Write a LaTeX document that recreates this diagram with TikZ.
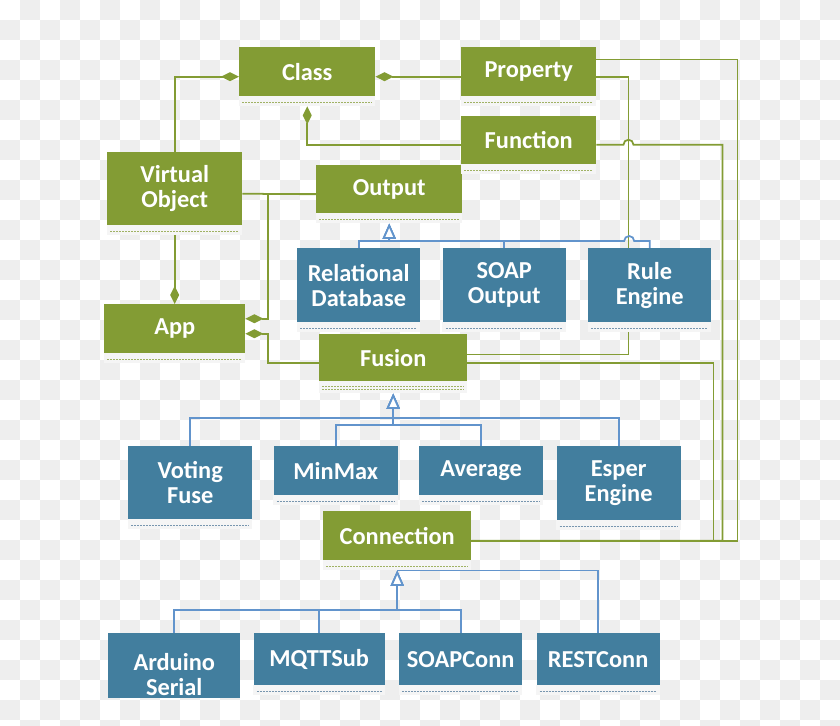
\documentclass[tikz,border=0pt]{standalone}
\usepackage{fontspec}
\setmainfont{Carlito}
\usepackage{tikz}
\usetikzlibrary{
        arrows.meta,
        backgrounds,
        positioning
    }
\definecolor{umlgreen}{RGB}{131,156,52}
\definecolor{umlblue}{RGB}{66,126,158}
\definecolor{linkblue}{RGB}{98,148,204}
\definecolor{checkgray}{RGB}{238,238,238}
\definecolor{dashgreen}{RGB}{160,178,100}
\definecolor{dashblue}{RGB}{120,150,175}
\tikzset{
    boxsize/.style 2 args={minimum width=#1*0.3mm,minimum height=#2*0.3mm},
    umlbox/.style={rectangle,inner sep=0pt,anchor=north west,align=center,text=white,
        font=\fontsize{20.8}{21.3}\selectfont\bfseries},
    greenbox/.style={umlbox,fill=umlgreen},
    bluebox/.style={umlbox,fill=umlblue},
    strip/.style={fill=black!4},
    gdash/.style={draw=dashgreen,line width=0.6pt,dash pattern=on 0.6mm off 0.3mm},
    bdash/.style={draw=dashblue,line width=0.6pt,dash pattern=on 0.6mm off 0.3mm},
    assoc/.style={draw=umlgreen,line width=1.5pt},
    comp/.style={assoc,-{Diamond[length=5.4mm,width=2.7mm]}},
    genl/.style={draw=linkblue,line width=1.5pt},
    gen/.style={genl,-{Triangle[length=4.6mm,width=3.9mm,fill=white]}}
}

\begin{document}
\begin{tikzpicture}[x=0.3mm,y=-0.3mm]
    \useasboundingbox (0,0) rectangle (840,726);
        \node[greenbox,boxsize={136}{49}] (cls) at (239,47) {Class};
        \node[greenbox,boxsize={135}{49}] (prop) at (461,47) {Property};
        \node[greenbox,boxsize={135}{48},below=5.7mm of prop.south west,anchor=north west] (func) {Function};
        \node[greenbox,boxsize={135}{73}] (vobj) at (107,152) {Virtual\\Object};
        \node[greenbox,boxsize={146}{48}] (outp) at (316,165) {Output};
        \node[greenbox,boxsize={141}{49}] (app) at (104,304) {App};
        \node[greenbox,boxsize={148}{47}] (fus) at (319,334) {Fusion};
        \node[greenbox,boxsize={148}{49}] (conn) at (323,511) {Connection};
        % outputs
        \node[bluebox,boxsize={123}{74}] (reldb) at (297,248) {Relational\\Database};
        \node[bluebox,boxsize={123}{74},right=6.6mm of reldb.north east,anchor=north west] (soapout) {SOAP\\Output};
        \node[bluebox,boxsize={123}{74},right=6.6mm of soapout.north east,anchor=north west] (rule) {Rule\\Engine};
        % fusions
        \node[bluebox,boxsize={124}{73}] (vote) at (128,446) {Voting\\Fuse};
        \node[bluebox,boxsize={124}{49},right=6.3mm of vote.north east,anchor=north west] (minmax) {MinMax};
        \node[bluebox,boxsize={124}{49},right=6.3mm of minmax.north east,anchor=north west] (avg) {Average};
        \node[bluebox,boxsize={124}{74},right=3.9mm of avg.north east,anchor=north west] (esper) {Esper\\Engine};
        % connections
        \begin{scope}
            \clip (0,0) rectangle (840,697);
            \node[bluebox,boxsize={132}{82}] (ard) at (108,633) {Arduino\\Serial};
        \end{scope}
        \node[bluebox,boxsize={131}{52},right=3.9mm of ard.north east,anchor=north west] (mqtt) {MQTTSub};
        \node[bluebox,boxsize={123}{52},right=4.2mm of mqtt.north east,anchor=north west] (soapc) {SOAPConn};
        \node[bluebox,boxsize={123}{52},right=4.2mm of soapc.north east,anchor=north west] (rest) {RESTConn};

        \foreach \n in {cls,prop,func,vobj,outp,app,conn}{
            \fill[strip] (\n.south west) rectangle ([yshift=-3mm]\n.south east);
            \draw[gdash] ([xshift=1mm,yshift=-1.8mm]\n.south west) -- ([xshift=-1mm,yshift=-1.8mm]\n.south east);
        }
        \fill[strip] (fus.south west) rectangle ([yshift=-3.6mm]fus.south east);
        \draw[gdash] ([xshift=1mm,yshift=-1.6mm]fus.south west) -- ([xshift=-1mm,yshift=-1.6mm]fus.south east);
        \draw[gdash] ([xshift=1mm,yshift=-2.5mm]fus.south west) -- ([xshift=-1mm,yshift=-2.5mm]fus.south east);
        \foreach \n in {reldb,soapout,rule,vote,minmax,avg,esper,mqtt,soapc,rest}{
            \fill[strip] (\n.south west) rectangle ([yshift=-3mm]\n.south east);
            \draw[bdash] ([xshift=1mm,yshift=-1.8mm]\n.south west) -- ([xshift=-1mm,yshift=-1.8mm]\n.south east);
        }

    \begin{scope}[on background layer]
        \begin{scope}
            \clip (0,0) rectangle (840,726);
            \foreach \i in {0,40,...,800}
                \foreach \j in {20,60,...,700}
                    \fill[checkgray] (\i,\j) rectangle ++(20,20);
            \foreach \i in {20,60,...,820}
                \foreach \j in {0,40,...,720}
                    \fill[checkgray] (\i,\j) rectangle ++(20,20);
        \end{scope}
        % associations
        \draw[comp] (vobj.north) |- ([yshift=-1.5mm]cls.west);
        \draw[comp] ([yshift=-1.5mm]prop.west) -- ([yshift=-1.5mm]cls.east);
        \draw[comp] ([yshift=-1.5mm]func.west) -| ([yshift=-3mm]cls.south);
        \draw[assoc] ([yshift=-1.5mm]vobj.east) -- ([yshift=-1.5mm]outp.west);
        \draw[comp] ([yshift=-3mm]vobj.south) -- (app.north);
        \draw[comp] ([yshift=-1.5mm]outp.west) -- ++(-48,0) |- ([yshift=3mm]app.east);
        \draw[comp] ([yshift=-1.5mm]fus.west) -- ++(-51,0) |- ([yshift=-1.5mm]app.east);
        \draw[assoc] ([yshift=-1.5mm]prop.east) -- ++(32,0) |- ([yshift=1mm]fus.east);
        \draw[assoc] ([yshift=3.7mm]prop.east) -- ++(141,0) |- ([yshift=-1.5mm]conn.east);
        \draw[assoc] ([yshift=-1.5mm]func.east) -- ++(27,0) arc[start angle=180,end angle=0,radius=1.5mm]
            -- ++(89,0) |- ([yshift=-1.5mm]conn.east);
        \draw[assoc] ([yshift=-1.5mm]fus.east) -- ++(246,0) |- ([yshift=-1.5mm]conn.east);
        % generalizations
        \draw[gen] (reldb.north) -- ++(0,-7) -| ([yshift=-3mm]outp.south);
        \draw[gen] (soapout.north) -- ++(0,-7) -| ([yshift=-3mm]outp.south);
        \draw[gen] (rule.north) -- ++(0,-7) -- ++(-15.5,0) arc[start angle=0,end angle=180,radius=1.5mm]
            -| ([yshift=-3mm]outp.south);
        \draw[gen] (vote.north) -- ++(0,-28) -| ([yshift=-3.6mm]fus.south);
        \draw[gen] (esper.north) -- ++(0,-28) -| ([yshift=-3.6mm]fus.south);
        \draw[gen] (minmax.north) -- ++(0,-21) -| ([yshift=-3.6mm]fus.south);
        \draw[gen] (avg.north) -- ++(0,-21) -| ([yshift=-3.6mm]fus.south);
        \draw[gen] (ard.north) -- ++(0,-23) -| ([yshift=-3mm]conn.south);
        \draw[gen] (mqtt.north) -- ++(0,-23) -| ([yshift=-3mm]conn.south);
        \draw[gen] (soapc.north) -- ++(0,-23) -| ([yshift=-3mm]conn.south);
        \draw[genl] (rest.north) |- ([yshift=-3mm]conn.south);
    \end{scope}
\end{tikzpicture}
\end{document}
